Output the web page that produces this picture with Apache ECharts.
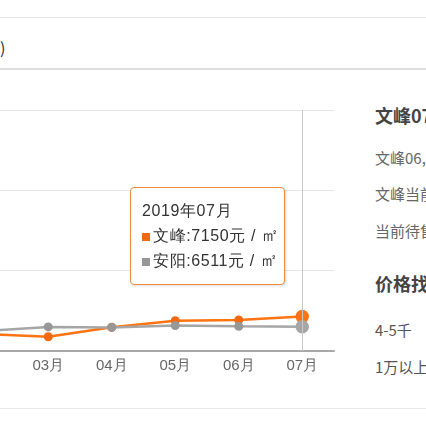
<!DOCTYPE html>
<html>
<head>
<meta charset="utf-8">
<script src="https://cdn.jsdelivr.net/npm/echarts@6/dist/echarts.min.js"></script>
<style>
    html, body {
        margin: 0;
        padding: 0;
        width: 426px;
        height: 426px;
        overflow: hidden;
        background: #fff;
        font-family: "Noto Sans CJK SC", "Noto Sans", sans-serif;
    }
    .hr {
        position: absolute;
        left: 0;
        width: 426px;
    }
    .txt {
        position: absolute;
        white-space: nowrap;
        color: #666;
        font-size: 15px;
        line-height: 20px;
    }
    .txt.b {
        color: #444;
        font-size: 18px;
        font-weight: bold;
    }
    #main {
        position: absolute;
        left: -100px;
        top: 90px;
        width: 440px;
        height: 300px;
    }
</style>
</head>
<body>
<div class="hr" style="top:17px;border-top:1px solid #e8e8e8;"></div>
<div class="txt" style="left:0;top:37px;color:#333;font-size:16px;">)</div>
<div class="hr" style="top:68px;border-top:2px solid #dedede;"></div>
<div class="hr" style="top:408px;border-top:1px solid #e8e8e8;"></div>

<div id="main"></div>

<div class="txt b" style="left:375px;top:105px;">文峰07</div>
<div class="txt" style="left:375px;top:148px;">文峰06,</div>
<div class="txt" style="left:375px;top:184px;">文峰当前</div>
<div class="txt" style="left:375px;top:221px;">当前待售</div>
<div class="txt b" style="left:375px;top:273px;">价格找</div>
<div class="txt" style="left:375px;top:320px;color:#555;">4-5千</div>
<div class="txt" style="left:375px;top:357px;color:#555;">1万以上</div>

<script>
// 月份
var months = ['02月', '03月', '04月', '05月', '06月', '07月'];
var year = '2019年';
// 均价 元/㎡
var wenfeng = [6060, 5890, 6480, 6890, 6930, 7150];
var anyang = [6250, 6500, 6470, 6580, 6540, 6511];
var yTicks = [5000, 10000, 15000, 20000];

var myChart = echarts.init(document.getElementById('main'));

myChart.setOption({
    animation: false,
    grid: {
        left: 53,
        top: 20,
        width: 381,
        height: 241
    },
    tooltip: {
        trigger: 'axis',
        alwaysShowContent: true,
        backgroundColor: '#fff',
        borderColor: '#f08b3e',
        borderWidth: 1,
        borderRadius: 4,
        padding: [10, 11],
        extraCssText: 'width:155px;height:98px;box-sizing:border-box;white-space:nowrap;box-shadow:1px 1px 3px rgba(0,0,0,0.15);',
        textStyle: {
            color: '#333',
            fontSize: 16
        },
        axisPointer: {
            type: 'line',
            lineStyle: {
                color: '#c8c8c8',
                width: 1,
                type: 'solid'
            }
        },
        position: function () {
            return [230, 97];
        },
        formatter: function (params) {
            var html = '<div style="line-height:25px;font-size:16px;letter-spacing:0.6px;color:#333;">' + year + params[0].name;
            params.forEach(function (p) {
                html += '<br><span style="display:inline-block;width:8px;height:8px;margin-right:3px;background:' +
                    p.color + ';"></span>' + p.seriesName + ':' + p.value + '元 / <span style="font-size:18px;">㎡</span>';
            });
            return html + '</div>';
        }
    },
    xAxis: {
        type: 'category',
        boundaryGap: true,
        data: months,
        axisLine: {
            lineStyle: {
                color: '#a8a8a8',
                width: 2
            }
        },
        axisTick: {
            alignWithLabel: true,
            length: 5,
            lineStyle: {
                color: '#c9d7ea'
            }
        },
        axisLabel: {
            color: '#666',
            fontSize: 15,
            margin: 7
        }
    },
    yAxis: {
        type: 'value',
        min: yTicks[0],
        max: yTicks[yTicks.length - 1],
        interval: 5000,
        axisLine: {show: false},
        axisTick: {show: false},
        axisLabel: {color: '#666'},
        splitLine: {
            lineStyle: {
                color: '#e6e6e6'
            }
        }
    },
    series: [
        {
            name: '文峰',
            type: 'line',
            data: wenfeng,
            symbol: 'circle',
            symbolSize: 9,
            itemStyle: {color: '#f2690f'},
            lineStyle: {color: '#f2690f', width: 2.5},
            emphasis: {scale: 1.5}
        },
        {
            name: '安阳',
            type: 'line',
            data: anyang,
            symbol: 'circle',
            symbolSize: 9,
            itemStyle: {color: '#979797'},
            lineStyle: {color: '#979797', width: 2.5},
            emphasis: {scale: 1.5}
        }
    ]
});

// 显示 07月 的提示框
myChart.dispatchAction({
    type: 'showTip',
    seriesIndex: 0,
    dataIndex: 5
});
</script>
</body>
</html>
